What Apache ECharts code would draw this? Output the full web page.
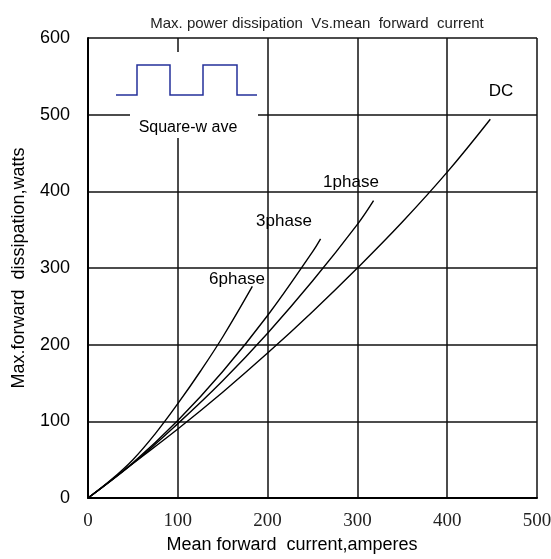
<!DOCTYPE html>
<html>
<head>
<meta charset="utf-8">
<script src="https://cdn.jsdelivr.net/npm/echarts@6/dist/echarts.min.js"></script>
<style>
  html, body { margin: 0; padding: 0; background: #fff; }
  #chart { width: 551px; height: 559px; }
</style>
</head>
<body>
<div id="chart"></div>
<script>
// values (x: amperes, y: watts)
const dcX = [0, 50, 100, 150, 200, 250, 300, 350, 400, 448];
const dcY = [0, 45, 90, 138, 189, 243, 300, 360, 425, 494];
const ph1X = [0, 50, 100, 150, 200, 250, 300, 318];
const ph1Y = [0, 45, 97, 153, 215, 283, 357, 388];
const ph3X = [0, 50, 100, 150, 200, 250, 259];
const ph3Y = [0, 46, 101, 165, 238, 321, 338];
const ph6X = [0, 25, 50, 75, 100, 125, 150, 183];
const ph6Y = [0, 23, 50, 84, 123, 165, 210, 276];
const xTicks = [0, 100, 200, 300, 400, 500];
const yTicks = [0, 100, 200, 300, 400, 500, 600];

function pairs(xs, ys) {
  return xs.map((x, i) => [x, ys[i]]);
}

function curve(name, xs, ys) {
  return {
    name: name,
    type: 'line',
    data: pairs(xs, ys),
    smooth: 0.4,
    symbol: 'none',
    lineStyle: { color: '#000', width: 1.4 },
    z: 5
  };
}

const sans = 'Liberation Sans, Arial, sans-serif';

function label(text, x, y) {
  return {
    type: 'text', x: x, y: y, z: 11,
    style: { text: text, fontFamily: sans, fontSize: 17, fill: '#000', align: 'center', verticalAlign: 'middle' }
  };
}

let option = {
  animation: false,
  backgroundColor: '#fff',
  title: {
    text: 'Max. power dissipation  Vs.mean  forward  current',
    left: 312,
    textAlign: 'center',
    top: 11,
    textStyle: { fontFamily: sans, fontSize: 15, fontWeight: 'normal', color: '#222' }
  },
  grid: { left: 88, right: 14, top: 38, bottom: 61, outerBoundsMode: 'none' },
  xAxis: {
    type: 'value',
    min: xTicks[0],
    max: xTicks[xTicks.length - 1],
    interval: 100,
    name: 'Mean forward  current,amperes',
    nameLocation: 'middle',
    nameGap: 35,
    nameTextStyle: { fontFamily: sans, fontSize: 18, color: '#000', padding: [0, 41, 0, 0] },
    axisLine: { show: true, lineStyle: { color: '#000', width: 2 } },
    axisTick: { show: false },
    axisLabel: { fontFamily: 'Liberation Serif, Times New Roman, serif', fontSize: 19, color: '#222', margin: 14 },
    splitLine: { show: true, lineStyle: { color: '#111', width: 1.5 } }
  },
  yAxis: {
    type: 'value',
    min: yTicks[0],
    max: yTicks[yTicks.length - 1],
    interval: 100,
    name: 'Max.forward  dissipation,watts',
    nameLocation: 'middle',
    nameGap: 60,
    nameTextStyle: { fontFamily: sans, fontSize: 18, color: '#000' },
    axisLine: { show: true, lineStyle: { color: '#000', width: 2 } },
    axisTick: { show: false },
    axisLabel: { fontFamily: sans, fontSize: 18, color: '#000', margin: 18 },
    splitLine: { show: true, lineStyle: { color: '#111', width: 1.5 } }
  },
  series: [
    curve('DC', dcX, dcY),
    curve('1phase', ph1X, ph1Y),
    curve('3phase', ph3X, ph3Y),
    curve('6phase', ph6X, ph6Y)
  ],
  graphic: [
    // white box behind the square-wave sketch
    { type: 'rect', shape: { x: 130, y: 52, width: 128, height: 86 }, style: { fill: '#fff' }, z: 10 },
    {
      type: 'polyline',
      shape: { points: [[116, 95], [137, 95], [137, 65], [170, 65], [170, 95], [203, 95], [203, 65], [237, 65], [237, 95], [257, 95]] },
      style: { stroke: '#25309a', lineWidth: 1.5, fill: null },
      z: 11
    },
    { type: 'text', x: 188, y: 128, z: 11,
      style: { text: 'Square-w ave', fontFamily: sans, fontSize: 16, fill: '#000', align: 'center', verticalAlign: 'middle' } },
    label('DC', 501, 91),
    label('1phase', 351, 182),
    label('3phase', 284, 221),
    label('6phase', 237, 279)
  ]
};

let myChart = echarts.init(document.getElementById('chart'));
myChart.setOption(option);
</script>
</body>
</html>
